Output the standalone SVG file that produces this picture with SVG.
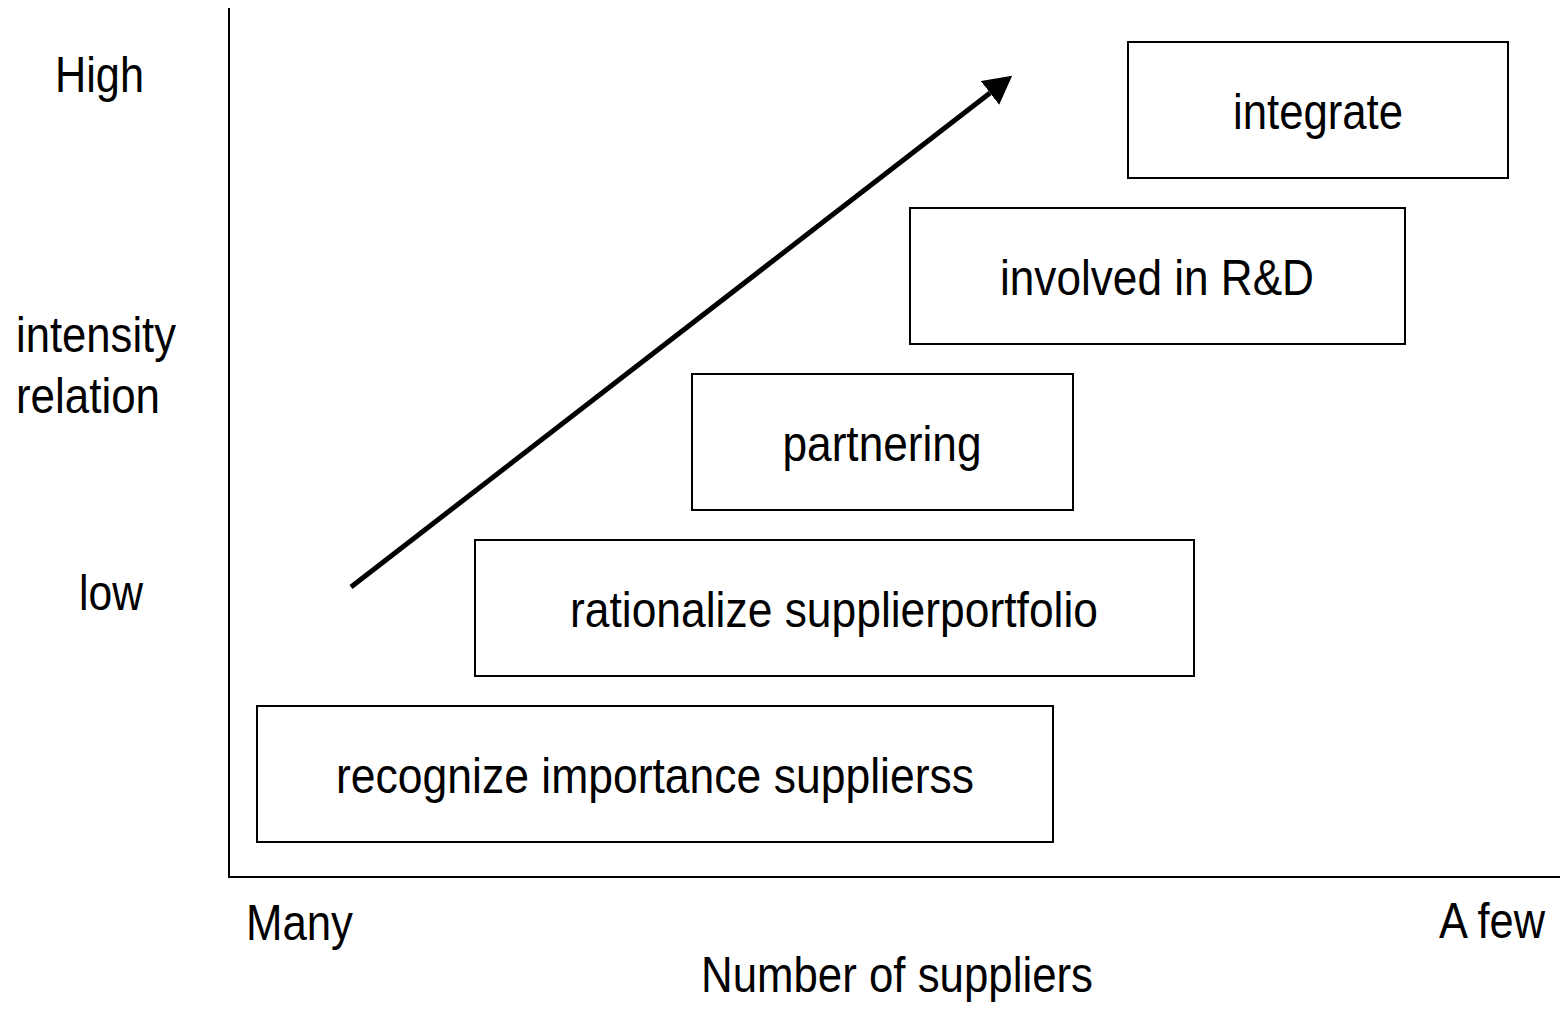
<svg xmlns="http://www.w3.org/2000/svg" width="1560" height="1014" viewBox="0 0 1560 1014">
<style>
  text { font-family: "Liberation Sans", Arial, sans-serif; font-size: 50px; fill: #000; }
  .c { text-anchor: middle; }
  .box { fill: #fff; stroke: #000; stroke-width: 2; }
  .axis { stroke: #000; stroke-width: 2; fill: none; }
</style>
<defs>
  <marker id="head" markerUnits="userSpaceOnUse" viewBox="0 0 28 30" refX="0" refY="15" markerWidth="28" markerHeight="30" orient="auto">
    <path d="M0,0 L28,15 L0,30 Z" fill="#000"/>
  </marker>
</defs>
<rect width="1560" height="1014" fill="#fff"/>
<g id="axes">
  <line class="axis" x1="229" y1="8" x2="229" y2="877"/>
  <line class="axis" x1="228" y1="877" x2="1560" y2="877"/>
</g>
<g id="axis-labels">
  <text x="55" y="92" textLength="89" lengthAdjust="spacingAndGlyphs">High</text>
  <text x="16" y="352" textLength="160" lengthAdjust="spacingAndGlyphs">intensity</text>
  <text x="16" y="413" textLength="144" lengthAdjust="spacingAndGlyphs">relation</text>
  <text x="79" y="610" textLength="64" lengthAdjust="spacingAndGlyphs">low</text>
  <text x="246" y="940" textLength="107" lengthAdjust="spacingAndGlyphs">Many</text>
  <text x="1439" y="938" textLength="106" lengthAdjust="spacingAndGlyphs">A few</text>
  <text class="c" x="897" y="992" textLength="392" lengthAdjust="spacingAndGlyphs">Number of suppliers</text>
</g>
<g id="node-integrate">
  <rect class="box" x="1128" y="42" width="380" height="136"/>
  <text class="c" x="1318" y="129" textLength="170" lengthAdjust="spacingAndGlyphs">integrate</text>
</g>
<g id="node-involved">
  <rect class="box" x="910" y="208" width="495" height="136"/>
  <text class="c" x="1157" y="295" textLength="314" lengthAdjust="spacingAndGlyphs">involved in R&amp;D</text>
</g>
<g id="node-partnering">
  <rect class="box" x="692" y="374" width="381" height="136"/>
  <text class="c" x="882" y="461" textLength="199" lengthAdjust="spacingAndGlyphs">partnering</text>
</g>
<g id="node-rationalize">
  <rect class="box" x="475" y="540" width="719" height="136"/>
  <text class="c" x="834" y="627" textLength="528" lengthAdjust="spacingAndGlyphs">rationalize supplierportfolio</text>
</g>
<g id="node-recognize">
  <rect class="box" x="257" y="706" width="796" height="136"/>
  <text class="c" x="655" y="793" textLength="638" lengthAdjust="spacingAndGlyphs">recognize importance supplierss</text>
</g>
<g id="connectors">
  <line x1="351" y1="587" x2="990" y2="93" stroke="#000" stroke-width="5" marker-end="url(#head)"/>
</g>
</svg>
